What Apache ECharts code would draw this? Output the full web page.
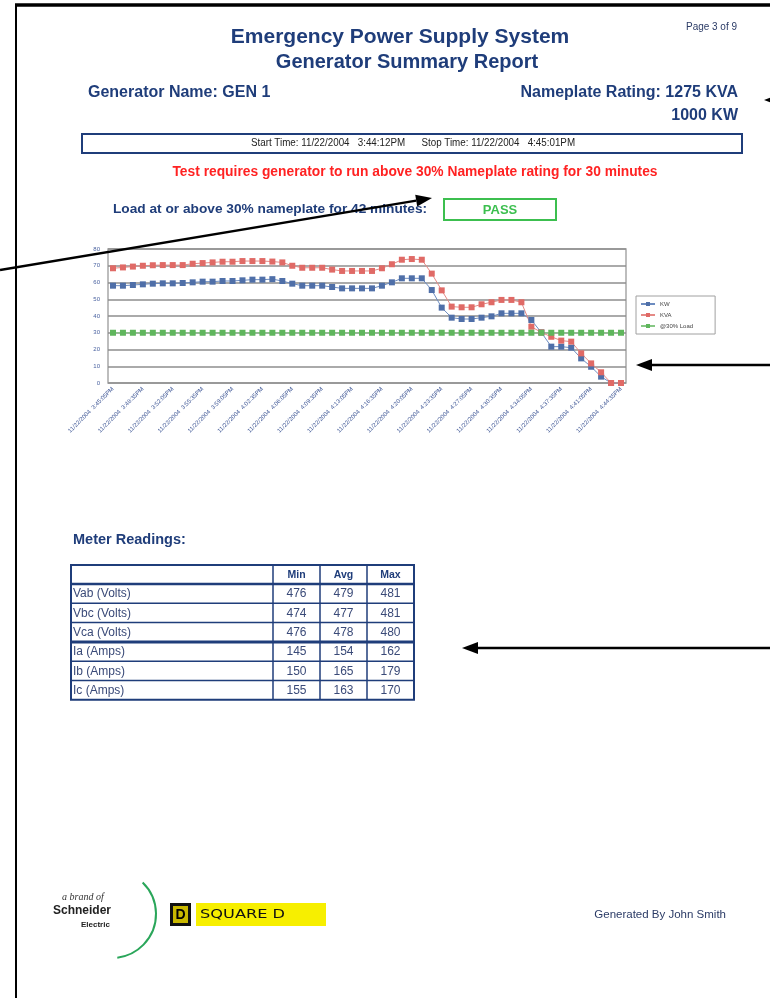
<!DOCTYPE html>
<html>
<head>
<meta charset="utf-8">
<script src="https://cdn.jsdelivr.net/npm/echarts@6/dist/echarts.min.js"></script>
<style>
html, body { margin: 0; padding: 0; background: #fff; }
#page { width: 770px; height: 998px; }
</style>
</head>
<body>
<div id="page"></div>
<script>
// readings, one per sample
const sampleTimes = [
  '3:45:05PM', '3:46:15PM', '3:47:25PM', '3:48:35PM', '3:49:45PM', '3:50:55PM', '3:52:05PM', '3:53:15PM',
  '3:54:25PM', '3:55:35PM', '3:56:45PM', '3:57:55PM', '3:59:05PM', '4:00:15PM', '4:01:25PM', '4:02:35PM',
  '4:03:45PM', '4:04:55PM', '4:06:05PM', '4:07:15PM', '4:08:25PM', '4:09:35PM', '4:10:45PM', '4:11:55PM',
  '4:13:05PM', '4:14:15PM', '4:15:25PM', '4:16:35PM', '4:17:45PM', '4:18:55PM', '4:20:05PM', '4:21:15PM',
  '4:22:25PM', '4:23:35PM', '4:24:45PM', '4:25:55PM', '4:27:05PM', '4:28:15PM', '4:29:25PM', '4:30:35PM',
  '4:31:45PM', '4:32:55PM', '4:34:05PM', '4:35:15PM', '4:36:25PM', '4:37:35PM', '4:38:45PM', '4:39:55PM',
  '4:41:05PM', '4:42:15PM', '4:43:25PM', '4:44:35PM'
];
const kwValues = [
  58.1, 58.1, 58.5, 58.9, 59.3, 59.5, 59.5, 59.7, 60.1, 60.5,
  60.5, 60.9, 60.9, 61.3, 61.7, 61.7, 62, 60.9, 59.3, 58.1,
  58.1, 58.1, 57.3, 56.5, 56.5, 56.5, 56.5, 58.1, 60.1, 62.5,
  62.5, 62.5, 55.5, 45, 39, 38.2, 38.2, 39, 39.8, 41.6,
  41.6, 41.6, 37.6, 30.2, 21.7, 21.7, 21.1, 14.7, 9.7, 3.8,
  0, 0
];
const kvaValues = [
  68.5, 69, 69.5, 70, 70.3, 70.4, 70.4, 70.4, 71.2, 71.6,
  72, 72.4, 72.4, 72.8, 72.8, 72.8, 72.5, 72, 70, 68.8,
  68.8, 68.8, 67.7, 66.9, 66.9, 66.9, 66.9, 68.5, 70.9, 73.6,
  74, 73.6, 65.3, 55.3, 45.6, 45.2, 45.2, 47, 48.2, 49.6,
  49.6, 48.2, 33.6, 30.2, 27.6, 25.3, 24.7, 17.7, 11.7, 6.4,
  0, 0
];
const load30Values = [
  30, 30, 30, 30, 30, 30, 30, 30, 30, 30,
  30, 30, 30, 30, 30, 30, 30, 30, 30, 30,
  30, 30, 30, 30, 30, 30, 30, 30, 30, 30,
  30, 30, 30, 30, 30, 30, 30, 30, 30, 30,
  30, 30, 30, 30, 30, 30, 30, 30, 30, 30,
  30, 30
];
const seriesNames = ['KW', 'KVA', '@30% Load'];

// meter table
const meterCols = ['Min', 'Avg', 'Max'];
const meterRows = ['Vab (Volts)', 'Vbc (Volts)', 'Vca (Volts)', 'Ia (Amps)', 'Ib (Amps)', 'Ic (Amps)'];
const meterMin = [476, 474, 476, 145, 150, 155];
const meterAvg = [479, 477, 478, 154, 165, 163];
const meterMax = [481, 481, 480, 162, 179, 170];

const categories = sampleTimes.map(t => '11/22/2004  ' + t);

const NAVY = '#1f3d7a';
const FONT = '"Liberation Sans", Arial, sans-serif';

function txt(x, y, text, size, opts) {
  opts = opts || {};
  return {
    type: 'text',
    x: x,
    y: y,
    z: opts.z || 10,
    scaleX: opts.sx || 1,
    style: {
      text: text,
      fill: opts.color || NAVY,
      font: (opts.style || '') + ' ' + (opts.weight || 'normal') + ' ' + size + 'px ' + (opts.family || FONT),
      textAlign: opts.align || 'left',
      textVerticalAlign: 'middle',
    },
  };
}

function seg(x1, y1, x2, y2, w, color) {
  return {
    type: 'line',
    z: 10,
    shape: { x1: x1, y1: y1, x2: x2, y2: y2 },
    style: { stroke: color || NAVY, lineWidth: w },
  };
}

// black pointer arrow, tip at (x2, y2)
function arrow(x1, y1, x2, y2) {
  const a = Math.atan2(y2 - y1, x2 - x1);
  const len = 16;
  const half = 6;
  const bx = x2 - Math.cos(a) * len;
  const by = y2 - Math.sin(a) * len;
  const nx = -Math.sin(a) * half;
  const ny = Math.cos(a) * half;
  return [
    seg(x1, y1, bx, by, 2.5, '#000'),
    {
      type: 'polygon',
      z: 20,
      shape: { points: [[x2, y2], [bx + nx, by + ny], [bx - nx, by - ny]] },
      style: { fill: '#000' },
    },
  ];
}

function buildTable() {
  const left = 71;
  const top = 565;
  const colW = [202, 47, 47, 47];
  const headH = 19;
  const rowH = 19.3;
  const els = [];
  const xs = [left];
  colW.forEach(w => xs.push(xs[xs.length - 1] + w));
  const bottom = top + headH + rowH * meterRows.length;

  // cell grid
  for (let i = 1; i < xs.length - 1; i++) {
    els.push(seg(xs[i], top, xs[i], bottom, 1.5));
  }
  for (let r = 1; r < meterRows.length; r++) {
    const y = top + headH + rowH * r;
    els.push(seg(left, y, xs[xs.length - 1], y, r === 3 ? 3 : 1.5));
  }
  els.push(seg(left, top + headH, xs[xs.length - 1], top + headH, 2.5));
  els.push({
    type: 'rect',
    z: 10,
    shape: { x: left, y: top, width: xs[xs.length - 1] - left, height: bottom - top },
    style: { fill: 'none', stroke: NAVY, lineWidth: 2 },
  });

  meterCols.forEach((c, i) => {
    els.push(txt((xs[i + 1] + xs[i + 2]) / 2, top + headH / 2 + 1, c, 10.5, { weight: 'bold', align: 'center' }));
  });
  const cols = [meterMin, meterAvg, meterMax];
  meterRows.forEach((name, r) => {
    const cy = top + headH + rowH * r + rowH / 2 + 0.5;
    els.push(txt(left + 2, cy, name, 12, { color: '#3a4a78' }));
    cols.forEach((vals, i) => {
      els.push(txt((xs[i + 1] + xs[i + 2]) / 2, cy, String(vals[r]), 12, { color: '#3a4a78', align: 'center' }));
    });
  });
  return els;
}

const graphics = [
  // page frame
  seg(15, 5, 770, 5, 3.5, '#000'),
  seg(16, 5, 16, 998, 2, '#000'),

  txt(737, 27, 'Page 3 of 9', 10.5, { align: 'right', color: '#2b3b66', sx: 0.95 }),
  txt(400, 37, 'Emergency Power Supply System', 21, { weight: 'bold', align: 'center' }),
  txt(407, 62, 'Generator Summary Report', 20, { weight: 'bold', align: 'center' }),
  txt(88, 93, 'Generator Name: GEN 1', 16, { weight: 'bold' }),
  txt(738, 93, 'Nameplate Rating: 1275 KVA', 16, { weight: 'bold', align: 'right' }),
  txt(738, 116, '1000 KW', 16, { weight: 'bold', align: 'right' }),

  {
    type: 'rect',
    z: 10,
    shape: { x: 82, y: 134, width: 660, height: 19 },
    style: { fill: 'none', stroke: NAVY, lineWidth: 2 },
  },
  txt(413, 143.5, 'Start Time: 11/22/2004   3:44:12PM      Stop Time: 11/22/2004   4:45:01PM', 10, { align: 'center', color: '#222', sx: 0.98 }),

  txt(415, 172, 'Test requires generator to run above 30% Nameplate rating for 30 minutes', 13.8, { weight: 'bold', align: 'center', color: '#ff2222' }),
  txt(113, 209, 'Load at or above 30% nameplate for 42 minutes:', 13.7, { weight: 'bold' }),
  {
    type: 'rect',
    z: 10,
    shape: { x: 444, y: 199, width: 112, height: 21 },
    style: { fill: 'none', stroke: '#3cbf4f', lineWidth: 2 },
  },
  txt(500, 210, 'PASS', 13, { weight: 'bold', align: 'center', color: '#3cbf4f' }),

  txt(73, 540, 'Meter Readings:', 14.5, { weight: 'bold' }),

  // footer logos
  {
    type: 'arc',
    z: 10,
    shape: { cx: 112, cy: 914, r: 44, startAngle: -0.8, endAngle: 1.45, clockwise: true },
    style: { fill: 'none', stroke: '#2aa65a', lineWidth: 2 },
  },
  txt(62, 897, 'a brand of', 10, { style: 'italic', color: '#333', family: '"Liberation Serif", serif' }),
  txt(53, 911, 'Schneider', 12, { weight: 'bold', color: '#222' }),
  txt(81, 925, 'Electric', 8, { weight: 'bold', color: '#222' }),
  {
    type: 'rect',
    z: 10,
    shape: { x: 170, y: 903, width: 21, height: 23 },
    style: { fill: '#111' },
  },
  {
    type: 'rect',
    z: 11,
    shape: { x: 173, y: 906, width: 15, height: 17 },
    style: { fill: '#c9b800' },
  },
  txt(180.5, 915, 'D', 14, { weight: 'bold', align: 'center', color: '#000', z: 12 }),
  {
    type: 'rect',
    z: 10,
    shape: { x: 196, y: 903, width: 130, height: 23 },
    style: { fill: '#f7ef00' },
  },
  txt(200, 915, 'SQUARE D', 12, { color: '#111', family: '"DejaVu Sans", sans-serif', sx: 1.35, z: 12 }),
  txt(726, 915, 'Generated By John Smith', 11.5, { align: 'right', color: '#2b3b66' }),
]
  .concat(buildTable())
  .concat(arrow(0, 270, 432, 198))
  .concat(arrow(772, 100, 764, 100))
  .concat(arrow(772, 365, 636, 365))
  .concat(arrow(772, 648, 462, 648));

const chart = echarts.init(document.getElementById('page'), null, { renderer: 'canvas' });

chart.setOption({
  backgroundColor: '#fff',
  animation: false,
  textStyle: { fontFamily: FONT },
  grid: {
    left: 108,
    top: 249,
    width: 518,
    height: 134,
    show: true,
    borderColor: '#a8a8a8',
    borderWidth: 1.5,
  },
  legend: {
    data: seriesNames,
    orient: 'vertical',
    left: 636,
    top: 296,
    padding: [5, 22, 5, 4],
    itemWidth: 14,
    itemHeight: 5,
    itemGap: 5,
    borderColor: '#a0a0a0',
    borderWidth: 1,
    textStyle: { fontSize: 6, color: '#444' },
  },
  xAxis: {
    type: 'category',
    data: categories,
    boundaryGap: true,
    axisLine: { show: false },
    axisTick: { show: false },
    axisLabel: {
      interval: 2,
      rotate: 45,
      fontSize: 6,
      color: '#3f5796',
      margin: 5,
    },
  },
  yAxis: {
    type: 'value',
    min: 0,
    max: 80,
    interval: 10,
    axisLine: { show: false },
    axisTick: { show: false },
    axisLabel: { fontSize: 6, color: '#4a62a0', margin: 8 },
    splitLine: { lineStyle: { color: '#8e8e8e', width: 1.5 } },
  },
  series: [
    {
      name: seriesNames[0],
      type: 'line',
      data: kwValues,
      symbol: 'rect',
      symbolSize: 6,
      lineStyle: { width: 1, color: '#6d8cc0' },
      itemStyle: { color: '#4f6fa8' },
    },
    {
      name: seriesNames[1],
      type: 'line',
      data: kvaValues,
      symbol: 'rect',
      symbolSize: 6,
      lineStyle: { width: 1, color: '#e58a86' },
      itemStyle: { color: '#e06a66' },
    },
    {
      name: seriesNames[2],
      type: 'line',
      data: load30Values,
      symbol: 'rect',
      symbolSize: 6,
      lineStyle: { width: 1, color: '#86c784' },
      itemStyle: { color: '#5fb65c' },
    },
  ],
  graphic: graphics,
});
</script>
</body>
</html>
